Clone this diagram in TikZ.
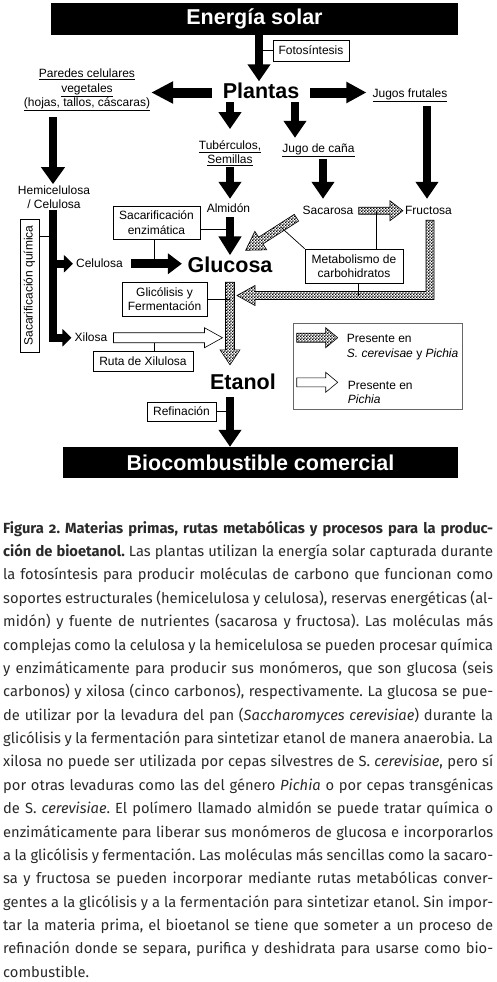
\documentclass[tikz,border=0pt]{standalone}
\usepackage{fontspec}
\setmainfont{Liberation Sans}
\newfontfamily\capfont[Numbers=OldStyle]{Fira Sans}
\usetikzlibrary{arrows.meta,calc,patterns}
\definecolor{captext}{HTML}{2A2A2A}

\pgfdeclarepatternformonly{finechecker}{\pgfpointorigin}{\pgfqpoint{3.2pt}{3.2pt}}{\pgfqpoint{3.2pt}{3.2pt}}{%
  \pgfpathrectangle{\pgfpointorigin}{\pgfqpoint{1.6pt}{1.6pt}}%
  \pgfpathrectangle{\pgfqpoint{1.6pt}{1.6pt}}{\pgfqpoint{1.6pt}{1.6pt}}%
  \pgfusepath{fill}}

% block arrow: style, tail, tip, half shaft, half head, head length
\newcommand\blockarrow[6]{%
  \coordinate (ba-base) at ($(#3)!#6!(#2)$);
  \path[#1] ($(#2)!#4!90:(#3)$) -- ($(ba-base)!#4!90:(#3)$) -- ($(ba-base)!#5!90:(#3)$) -- (#3)
    -- ($(ba-base)!#5!-90:(#3)$) -- ($(ba-base)!#4!-90:(#3)$) -- ($(#2)!#4!-90:(#3)$) -- cycle;}

\begin{document}
\begin{tikzpicture}[
  x=1pt, y=-1pt,
  font=\fontsize{12}{14.5}\selectfont,
  bar/.style={fill=black, text=white, inner sep=0pt, font=\bfseries\fontsize{21.5}{24}\selectfont},
  txt/.style={inner sep=1pt, text height=9pt, text depth=2.5pt},
  mtxt/.style={inner sep=1pt, align=center},
  big/.style={inner sep=1pt, font=\bfseries\fontsize{21.5}{24}\selectfont, text height=15.5pt, text depth=4.5pt},
  procbox/.style={draw, line width=0.6pt, inner sep=1pt, align=center},
  link/.style={line width=0.7pt},
  fat/.style={line width=8pt, -{Triangle[length=17pt, width=22pt]}},
  fatside/.style={line width=10pt, -{Triangle[length=22pt, width=21pt]}},
  fatcel/.style={line width=9pt, -{Triangle[length=14pt, width=20pt]}},
  fatbar/.style={line width=8pt, -{Triangle[length=9pt, width=17pt]}},
  chk/.style={pattern=finechecker, draw=black, line width=0.6pt},
  wht/.style={fill=white, draw=black, line width=0.6pt}
]
\useasboundingbox (0,0) rectangle (496,982);

% Sources
\node[bar, minimum width=407pt, minimum height=32pt] (solar) at (254.5,19) {Energía solar};
\node[procbox, minimum width=76pt, minimum height=21pt] (foto) at (311,50.5) {Fotosíntesis};
\node[big, anchor=base] (plantas) at (261,98) {Plantas};
\node[mtxt] (paredes) at (87,90) {\underline{Paredes celulares}\\\underline{vegetales}\\\underline{(hojas, tallos, cáscaras)}};
\node[txt, anchor=base] (jugos) at (410,97) {\underline{Jugos frutales}};
\node[mtxt] (tuberculos) at (230,153) {\underline{Tubérculos,}\\\underline{Semillas}};
\node[txt, anchor=base] (cana) at (318.5,152) {\underline{Jugo de caña}};

% Sugars and products
\node[mtxt] (hemicel) at (54,197) {Hemicelulosa\\/ Celulosa};
\node[txt, anchor=base] (almidon) at (228.5,212) {Almidón};
\node[txt, anchor=base] (sacarosa) at (328,214) {Sacarosa};
\node[txt, anchor=base] (fructosa) at (428.5,214) {Fructosa};
\node[txt, anchor=base] (celulosa) at (99.5,267) {Celulosa};
\node[txt, anchor=base] (xilosa) at (91,341) {Xilosa};
\node[big, anchor=base] (glucosa) at (230,272) {Glucosa};
\node[big, anchor=base] (etanol) at (243,389) {Etanol};
\node[bar, minimum width=395pt, minimum height=31pt] (bio) at (260.5,462.5) {Biocombustible comercial};

% Processes
\node[procbox, minimum width=87pt, minimum height=33pt] (sacenz) at (156.5,222.5) {Sacarificación\\enzimática};
\node[procbox, minimum width=19pt, minimum height=133pt] (sacq) at (29.5,285.5) {\rotatebox{90}{Sacarificación química}};
\node[procbox, minimum width=85pt, minimum height=34pt] (glic) at (164.5,299) {Glicólisis y\\Fermentación};
\node[procbox, minimum width=98pt, minimum height=34pt] (metab) at (354,266) {Metabolismo de\\carbohidratos};
\node[procbox, minimum width=100pt, minimum height=20pt] (ruta) at (143,361) {Ruta de Xilulosa};
\node[procbox, minimum width=69pt, minimum height=19pt] (refin) at (181.5,411.5) {Refinación};

% Legend
\node[draw=black!60, line width=0.6pt, minimum width=169pt, minimum height=86pt] (legend) at (377.5,366) {};
\coordinate (lg1-tail) at ([xshift=4pt,yshift=-15pt]legend.north west);
\coordinate (lg1-tip) at ([xshift=45pt,yshift=-15pt]legend.north west);
\coordinate (lg2-tail) at ([xshift=4pt,yshift=27pt]legend.south west);
\coordinate (lg2-tip) at ([xshift=45pt,yshift=27pt]legend.south west);
\node[mtxt, align=left, anchor=north west] (lgt1) at ([xshift=8pt,yshift=4.6pt]lg1-tip) {Presente en\\\textit{S. cerevisae} y \textit{Pichia}};
\node[mtxt, align=left, anchor=north west] (lgt2) at ([xshift=9pt,yshift=2.6pt]lg2-tip) {Presente en\\\textit{Pichia}};

% Ends of the patterned arrows
\coordinate (sf-tail) at ([xshift=4pt]sacarosa.east);
\coordinate (sf-tip) at ([xshift=-1pt]fructosa.west);
\coordinate (dg-tail) at ([xshift=-5pt]sacarosa.south west);
\coordinate (dg-tip) at ([xshift=-28pt,yshift=5pt]glucosa.north east);
\coordinate (gv-top) at ([yshift=-4.5pt]glucosa.south);
\coordinate (gv-tip) at ([yshift=7.5pt]etanol.north -| glucosa.south);
\coordinate (lt) at ([xshift=1.5pt,yshift=-2.5pt]fructosa.south);
\coordinate (l-tip) at ([xshift=7pt,yshift=3.5pt]glic.east -| glucosa.south);
\coordinate (wx-tail) at ([xshift=5pt]xilosa.east);
\coordinate (wx-tip) at ([xshift=-7.5pt]xilosa.east -| glucosa.south);

% Thin links from the process boxes
\draw[link] (foto.west) -- ([xshift=-2pt]foto.west -| plantas.north);
\draw[link] ([yshift=-6.5pt]sacenz.east) -- ([yshift=-6.5pt]sacenz.east -| glucosa.north);
\draw[link] ([xshift=-2.5pt]sacenz.south) -- ([xshift=-2.5pt,yshift=4.5pt]sacenz.south |- celulosa.east);
\draw[link] ([yshift=-18pt]sacq.north east) -- ([yshift=-18pt]sacq.north east -| hemicel.south);
\draw[link] (glic.east) -- (glic.east -| glucosa.south);
\draw[link] (metab.north west) -- ($(dg-tail)!0.3!(dg-tip)$);
\draw[link] ([xshift=22pt]metab.north) -- ([xshift=22pt]metab.north |- sacarosa.east);
\draw[link] ([xshift=4pt]metab.south) -- ([xshift=4pt]metab.south |- l-tip);
\draw[link] ([xshift=11pt]ruta.north) -- ([xshift=11pt]ruta.north |- xilosa.east);
\draw[link] (refin.east) -- (refin.east -| glucosa.south);

% Black arrows
\draw[fat] ([xshift=-2pt]solar.south -| plantas.north) -- ([xshift=-2pt]plantas.north);
\draw[fatside] ([xshift=-10pt]plantas.west) -- (paredes.east |- plantas.west);
\draw[line width=10pt, -{Triangle[length=20pt, width=20pt]}] ([xshift=10pt]plantas.east) -- ([xshift=-5pt]jugos.west |- plantas.east);
\draw[fat] ([xshift=-31pt,yshift=1.5pt]plantas.south) -- ([yshift=10pt]tuberculos.north);
\draw[fat] ([xshift=34pt,yshift=1.5pt]plantas.south) -- ([xshift=34pt,yshift=4pt]plantas.south |- cana.north);
\draw[fat, -{Triangle[length=17pt, width=23pt]}] ([xshift=-1pt,yshift=-5pt]paredes.south -| hemicel.north) -- ([xshift=-1pt]hemicel.north);
\draw[fat] ([xshift=-1.5pt,yshift=-5.5pt]jugos.south -| fructosa.north) -- ([xshift=-1.5pt,yshift=5pt]fructosa.north);
\draw[fat] ([xshift=-5pt,yshift=-3.5pt]cana.south -| sacarosa.north) -- ([xshift=-5pt,yshift=5pt]sacarosa.north);
\draw[fat] (tuberculos.south) -- ([yshift=3pt]almidon.north -| tuberculos.south);
\draw[fat, -{Triangle[length=19pt, width=22pt]}] ([yshift=-1.5pt]almidon.south -| glucosa.north) -- (glucosa.north);
\draw[fatcel] ([xshift=7pt]celulosa.east) -- ([xshift=-4.5pt]celulosa.east -| glucosa.west);
\draw[fatbar] ([xshift=-1pt]hemicel.south) |- ([xshift=-2pt]xilosa.west);
\draw[fatbar] ([xshift=-1pt]hemicel.south |- celulosa.west) -- ([xshift=-2pt]celulosa.west);
\draw[fat] ([yshift=-2.5pt]etanol.south -| glucosa.south) -- (bio.north -| glucosa.south);

% Patterned and open arrows
\blockarrow{chk}{sf-tail}{sf-tip}{3.5pt}{10pt}{13pt}
\blockarrow{chk}{dg-tail}{dg-tip}{4pt}{11pt}{18pt}
\path[chk] ([xshift=4pt]lt) |- ([xshift=18pt,yshift=-4pt]l-tip) -- ([xshift=18pt,yshift=-10pt]l-tip) -- (l-tip)
  -- ([xshift=18pt,yshift=10pt]l-tip) -- ([xshift=18pt,yshift=4pt]l-tip) -| ([xshift=-4pt]lt) -- cycle;
\blockarrow{wht}{wx-tail}{wx-tip}{5pt}{10pt}{18pt}
\blockarrow{chk}{gv-top}{gv-tip}{4.5pt}{10pt}{15pt}
\blockarrow{chk}{lg1-tail}{lg1-tip}{4.5pt}{10pt}{12pt}
\blockarrow{wht}{lg2-tail}{lg2-tip}{4.5pt}{10pt}{12pt}

% Caption
\node[anchor=north west, inner sep=0pt, text width=490pt, align=justify, text=captext,
      font=\capfont\fontsize{14.7}{23.37}\selectfont] (caption) at (3,519) {%
\frenchspacing\tolerance=9999 \pretolerance=-1 \hyphenpenalty=10000
\spaceskip=\fontdimen2\font plus \fontdimen3\font minus 0.4\fontdimen2\font
\rule{0pt}{14pt}%
{\bfseries Figura 2. Materias primas, rutas metabólicas y procesos para la produc-\linebreak ción de bioetanol.} Las plantas utilizan la energía solar capturada durante\linebreak
la fotosíntesis para producir moléculas de carbono que funcionan como\linebreak
soportes estructurales (hemicelulosa y celulosa), reservas energéticas (al-\linebreak midón) y fuente de nutrientes (sacarosa y fructosa). Las moléculas más\linebreak
complejas como la celulosa y la hemicelulosa se pueden procesar química\linebreak
y enzimáticamente para producir sus monómeros, que son glucosa (seis\linebreak
carbonos) y xilosa (cinco carbonos), respectivamente. La glucosa se pue-\linebreak de utilizar por la levadura del pan (\textit{Saccharomyces cerevisiae}) durante la\linebreak
glicólisis y la fermentación para sintetizar etanol de manera anaerobia. La\linebreak
xilosa no puede ser utilizada por cepas silvestres de S.~\textit{cerevisiae}, pero sí\linebreak
por otras levaduras como las del género \textit{Pichia} o por cepas transgénicas\linebreak
de S.~\textit{cerevisiae}. El polímero llamado almidón se puede tratar química o\linebreak
enzimáticamente para liberar sus monómeros de glucosa e incorporarlos\linebreak
a la glicólisis y fermentación. Las moléculas más sencillas como la sacaro-\linebreak sa y fructosa se pueden incorporar mediante rutas metabólicas conver-\linebreak gentes a la glicólisis y a la fermentación para sintetizar etanol. Sin impor-\linebreak tar la materia prima, el bioetanol se tiene que someter a un proceso de\linebreak
refinación donde se separa, purifica y deshidrata para usarse como bio-\linebreak combustible.};

\end{tikzpicture}
\end{document}
